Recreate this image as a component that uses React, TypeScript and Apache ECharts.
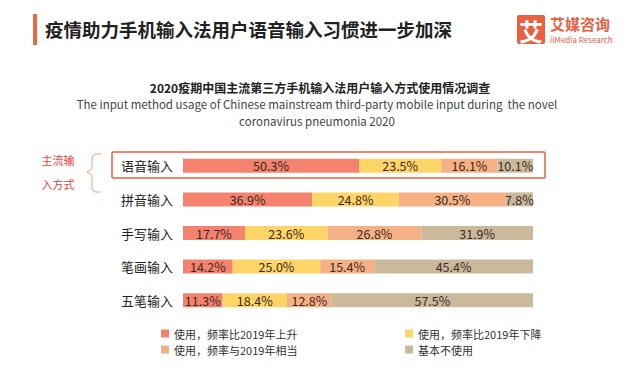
import React, { useEffect, useRef } from "react";
import * as echarts from "echarts";

const categories = ["语音输入", "拼音输入", "手写输入", "笔画输入", "五笔输入"];
const seriesNames = ["使用，频率比2019年上升", "使用，频率比2019年下降", "使用，频率与2019年相当", "基本不使用"];
const rising = [50.3, 36.9, 17.7, 14.2, 11.3];
const falling = [23.5, 24.8, 23.6, 25.0, 18.4];
const same = [16.1, 30.5, 26.8, 15.4, 12.8];
const notUsed = [10.1, 7.8, 31.9, 45.4, 57.5];
const colors = ["#f4826e", "#fdd466", "#f5b184", "#cbb99c"];

const FONT = "'Noto Sans CJK SC', 'Noto Sans', sans-serif";

export default function App() {
  const ref = useRef<HTMLDivElement>(null);
  useEffect(() => {
    const chart = echarts.init(ref.current!, null, { renderer: "svg" });
    const values = [rising, falling, same, notUsed];
    const legendPos = [
      { left: 156, top: 323 },
      { left: 400, top: 323 },
      { left: 156, top: 339 },
      { left: 400, top: 339 },
    ];
    chart.setOption({
      animation: false,
      backgroundColor: "#ffffff",
      textStyle: { fontFamily: FONT },
      grid: { left: 183, right: 108, top: 149, height: 168, containLabel: false },
      xAxis: { type: "value", min: 0, max: 100, show: false },
      yAxis: {
        type: "category",
        data: categories,
        inverse: true,
        axisLine: { show: false },
        axisTick: { show: false },
        axisLabel: { color: "#222", fontSize: 13, margin: 10, fontFamily: FONT },
      },
      legend: seriesNames.map((n, i) => ({
        data: [n],
        left: legendPos[i].left,
        top: legendPos[i].top,
        itemWidth: 8,
        itemHeight: 8,
        icon: "rect",
        textStyle: { fontSize: 11, color: "#333", fontFamily: FONT },
      })),
      series: seriesNames.map((n, i) => ({
        name: n,
        type: "bar",
        stack: "total",
        barWidth: 14,
        data: values[i],
        itemStyle: { color: colors[i] },
        label: {
          show: true,
          position: "inside",
          formatter: (p: any) => p.value.toFixed(1) + "%",
          color: "#3a2a22",
          fontSize: 12.5,
          fontFamily: FONT,
        },
      })),
      graphic: [
        { type: "rect", shape: { x: 33, y: 14, width: 4, height: 31 }, style: { fill: "#ea6a45" } },
        {
          type: "text", x: 45, y: 29,
          style: { text: "疫情助力手机输入法用户语音输入习惯进一步加深", fontSize: 18.5, fontWeight: "bold", fill: "#222", verticalAlign: "middle", fontFamily: FONT },
        },
        { type: "rect", shape: { x: 517, y: 15, width: 28, height: 29, r: 2 }, style: { fill: "#e8603f" } },
        {
          type: "text", x: 531, y: 30,
          style: { text: "艾", fontSize: 24, fontWeight: "bold", fill: "#fff", align: "center", verticalAlign: "middle", fontFamily: FONT },
        },
        {
          type: "text", x: 550, y: 23,
          style: { text: "艾媒咨询", fontSize: 15, fontWeight: "bold", fill: "#e8603f", verticalAlign: "middle", fontFamily: FONT },
        },
        {
          type: "text", x: 550, y: 39,
          style: { text: "iiMedia Research", fontSize: 8, fill: "#e8603f", verticalAlign: "middle", fontFamily: FONT },
        },
        {
          type: "text", x: 320, y: 87,
          style: { text: "2020疫期中国主流第三方手机输入法用户输入方式使用情况调查", fontSize: 12, fontWeight: "bold", fill: "#222", align: "center", verticalAlign: "middle", fontFamily: FONT },
        },
        {
          type: "text", x: 317, y: 104,
          style: { text: "The input method usage of Chinese mainstream third-party mobile input during  the novel", fontSize: 11.5, fill: "#444", align: "center", verticalAlign: "middle", fontFamily: FONT },
        },
        {
          type: "text", x: 317, y: 121,
          style: { text: "coronavirus pneumonia 2020", fontSize: 11.5, fill: "#444", align: "center", verticalAlign: "middle", fontFamily: FONT },
        },
        {
          type: "rect", shape: { x: 112, y: 152, width: 433, height: 26, r: 1 },
          style: { fill: "none", stroke: "#e8603f", lineWidth: 1.5 },
        },
        {
          type: "text", x: 58, y: 160,
          style: { text: "主流输", fontSize: 11, fill: "#e8413a", align: "center", verticalAlign: "middle", fontFamily: FONT },
        },
        {
          type: "text", x: 58, y: 184,
          style: { text: "入方式", fontSize: 11, fill: "#e8413a", align: "center", verticalAlign: "middle", fontFamily: FONT },
        },
        {
          type: "polyline",
          shape: { points: [[101, 154], [95, 154], [92, 157], [92, 169], [87, 172], [92, 175], [92, 189], [95, 192], [101, 192]] },
          style: { stroke: "#f0a47e", lineWidth: 1, fill: "none" },
        },
      ],
    });
    return () => chart.dispose();
  }, []);
  return <div ref={ref} style={{ width: 641, height: 384, margin: -8 }} />;
}
